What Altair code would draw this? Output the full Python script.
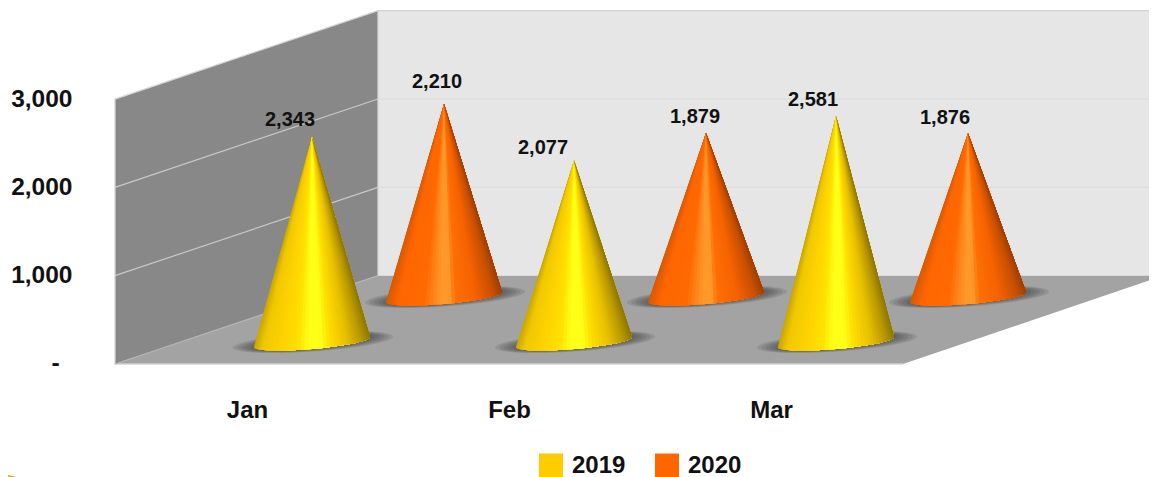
import math
import altair as alt
import pandas as pd

# ---- chart values ----
months = ["Jan", "Feb", "Mar"]
series = ["2019", "2020"]
values_2019 = [2343, 2077, 2581]
values_2020 = [2210, 1879, 1876]
y_ticks = [0, 1000, 2000, 3000]
series_colors = ["#ffcc00", "#ff6600"]

# ---- layout of the pseudo-3D scene (x in picture pixels, y in value units) ----
PX = 0.08833            # picture pixels per value unit
ZERO_PY = 364
BOTTOM_PY = 477
RIGHT_PX = 1149
WALL_L, WALL_R, FLOOR_R, PIC_R = 115, 378, 903, 1157
DEPTH = 1000
month_x = [247, 509, 771]
front_x = [312, 574, 836]
back_x = [444, 706, 968]
front_base = 226
back_base = 736
zero_label_x = 55.5
label_dx_2019 = [-22, -31, -23]
label_dx_2020 = [-7, -11, -23]
label_dy_2019 = [17, 13, 16]
label_dy_2020 = [22, 16, 15]

yellow_profile = [(-1, "#c8a800"), (-.85, "#f0c800"), (-.5, "#ffd400"), (-.25, "#ffe000"),
                  (-.05, "#ffff18"), (.15, "#ffff18"), (.32, "#ffdc00"), (.6, "#e8c000"),
                  (.85, "#b89800"), (1, "#8f7800")]
orange_profile = [(-1, "#d85a00"), (-.8, "#ff6600"), (-.35, "#ff6a00"), (-.14, "#ff8a20"),
                  (-.02, "#ff9a2a"), (.1, "#ff962a"), (.2, "#ff6f05"), (.55, "#f56200"),
                  (.85, "#c85000"), (1, "#a04000")]


def v(py):
    return (ZERO_PY - py) / PX


def mix(profile, u):
    for (u0, c0), (u1, c1) in zip(profile, profile[1:]):
        if u0 <= u <= u1:
            t = (u - u0) / (u1 - u0)
            rgb = [round(int(c0[i:i + 2], 16) * (1 - t) + int(c1[i:i + 2], 16) * t) for i in (1, 3, 5)]
            return "#%02x%02x%02x" % tuple(rgb)
    return profile[-1][1]


def envelope(pts, group, fill=None):
    xs = sorted({round(p[0], 3) for p in pts})
    rows = []
    n = len(pts)
    for x in xs:
        ys = []
        for i in range(n):
            x1, y1 = pts[i]
            x2, y2 = pts[(i + 1) % n]
            x1, x2 = round(x1, 3), round(x2, 3)
            if x1 == x2:
                if x == x1:
                    ys += [y1, y2]
            elif min(x1, x2) <= x <= max(x1, x2):
                ys.append(y1 + (y2 - y1) * (x - x1) / (x2 - x1))
        rows.append({"x": x, "y": max(ys), "y2": min(ys), "g": group, "c": fill})
    return rows


month_expr = " : ".join(f"datum.value == {x} ? '{m}'" for x, m in zip(month_x, months)) + " : ''"
axis_font = dict(labelFont="Liberation Sans", labelFontWeight="bold", labelColor="#111111",
                 domain=False, ticks=False, grid=False, title=None)
x_axis = alt.Axis(values=month_x, labelExpr=month_expr, labelFontSize=24, labelPadding=0,
                  labelBaseline="top", labelAlign="center", offset=-79, **axis_font)
y_axis = alt.Axis(values=y_ticks[1:], labelExpr="format(datum.value, ',')",
                  labelFontSize=24.5, labelPadding=0, labelAlign="right", offset=-64, **axis_font)
xs_scale = alt.Scale(domain=[8, RIGHT_PX], nice=False, zero=False)
ys_scale = alt.Scale(domain=[v(BOTTOM_PY), v(8)], nice=False, zero=False)
X = alt.X("x:Q", scale=xs_scale, axis=x_axis)
Y = alt.Y("y:Q", scale=ys_scale, axis=y_axis)


def poly_layer(pts, fill):
    return alt.Chart(pd.DataFrame(envelope(pts, "p", fill))).mark_area(
        orient="vertical", fill=fill, opacity=1, clip=True
    ).encode(x=X, y=Y, y2="y2:Q")


def line_layer(segments, color, width):
    rows = []
    for i, seg in enumerate(segments):
        for j, (x, y) in enumerate(seg):
            rows.append({"x": x, "y": y, "g": i, "o": j})
    return alt.Chart(pd.DataFrame(rows)).mark_line(color=color, strokeWidth=width, clip=True).encode(
        x=X, y=Y, detail="g:N", order="o:Q"
    )


# ---- hidden points that carry the legend ----
legend_rows = []
for name, vals, xs, base in [(series[0], values_2019, front_x, front_base),
                             (series[1], values_2020, back_x, back_base)]:
    for val, x in zip(vals, xs):
        legend_rows.append({"x": x, "y": val * 0.5 + base, "s": name})

legend_layer = alt.Chart(pd.DataFrame(legend_rows)).mark_square(size=20, opacity=1).encode(
    x=X, y=Y,
    color=alt.Color("s:N", scale=alt.Scale(domain=series, range=series_colors), legend=alt.Legend(
        orient="none", legendX=531, legendY=445.5, direction="horizontal", title=None,
        symbolType="square", symbolSize=576, symbolStrokeWidth=0, labelFontSize=24,
        labelFont="Liberation Sans", labelFontWeight="bold", labelColor="#111111",
        labelOffset=9, columnPadding=29, padding=0, labelLimit=200)),
)

# ---- walls and floor ----
back_wall = poly_layer([(WALL_R, DEPTH), (WALL_R, 3000 + DEPTH), (PIC_R, 3000 + DEPTH), (PIC_R, DEPTH)], "#e6e6e6")
left_wall = poly_layer([(WALL_L, 0), (WALL_L, 3000), (WALL_R, 3000 + DEPTH), (WALL_R, DEPTH)], "#888888")
floor = poly_layer([(WALL_L, 0), (WALL_R, DEPTH), (PIC_R, DEPTH), (PIC_R, DEPTH - 25), (FLOOR_R, 0)], "#a3a3a3")

grid_left = line_layer([[(WALL_L, t), (WALL_R, t + DEPTH)] for t in y_ticks[1:3]], "#c8c8c8", 1.2)
grid_back = line_layer([[(WALL_R, t + DEPTH), (PIC_R, t + DEPTH)] for t in y_ticks[1:3]], "#dcdcdc", 1.2)
edge_light = line_layer([[(WALL_L, 3000), (WALL_R, 3000 + DEPTH), (PIC_R, 3000 + DEPTH)],
                         [(WALL_L, 3000), (WALL_L, 0), (FLOOR_R, 0)],
                         [(WALL_R, 3000 + DEPTH), (WALL_R, DEPTH)]], "#d4d4d4", 1.3)
edge_floor = line_layer([[(WALL_L, 0), (WALL_R, DEPTH)]], "#b5b5b5", 1.2)

# ---- cones ----
R = 58
TILT = 5 / PX
H = 7 / PX
N = 48
grid_u = [-math.cos(math.pi * i / N) for i in range(N + 1)]


def ell(xc, yc, r, h, tilt, u, lower=True):
    s = math.sqrt(max(0, 1 - u * u))
    return (xc + r * u, yc + tilt * u + (-h * s if lower else h * s))


shadow_rows, cone_rows = [], []
cones = []
for name, vals, xs, base, prof in [(series[1], values_2020, back_x, back_base, orange_profile),
                                   (series[0], values_2019, front_x, front_base, yellow_profile)]:
    for val, xc in zip(vals, xs):
        cones.append((name, val, xc, base, prof))

for idx, (name, val, xc, base, prof) in enumerate(cones):
    yc = base + 2 / PX
    apex = (xc, base + val)
    # soft shadow under the cone
    for k in range(9):
        f = 1 - k * 0.055
        us = [-math.cos(math.pi * i / 30) for i in range(31)]
        r, h = 80 * f, (9.5 / PX) * f
        t = 5.5 / PX
        pts = [ell(xc + 1, yc, r, h, t, u, True) for u in us] + \
              [ell(xc + 1, yc, r, h, t, u, False) for u in reversed(us[1:-1])]
        shadow_rows += envelope(pts, f"{idx}-{k}")
    # conic shading: each slice runs from its own angle to the right rim, painted left to right
    for i, u0 in enumerate(grid_u[:-1]):
        arc = [ell(xc, yc, R, H, TILT, u, True) for u in grid_u[i:]]
        um = (u0 + grid_u[i + 1]) / 2
        cone_rows += envelope([apex] + arc, f"{idx}-{i:02d}", mix(prof, um))

shadows = alt.Chart(pd.DataFrame(shadow_rows)).mark_area(
    orient="vertical", fill="#2e2e2e", opacity=0.13
).encode(x=X, y=Y, y2="y2:Q", detail="g:N")

cone_layer = alt.Chart(pd.DataFrame(cone_rows)).mark_area(orient="vertical", opacity=1).encode(
    x=X, y=Y, y2="y2:Q", fill=alt.Fill("c:N", scale=None), detail="g:N"
)

# ---- value labels ----
label_rows = []
for vals, xs, base, dxs, dys in [(values_2019, front_x, front_base, label_dx_2019, label_dy_2019),
                                 (values_2020, back_x, back_base, label_dx_2020, label_dy_2020)]:
    for val, xc, dx, dy in zip(vals, xs, dxs, dys):
        label_rows.append({"x": xc + dx, "y": base + val + dy / PX, "t": f"{val:,}"})
labels = alt.Chart(pd.DataFrame(label_rows)).mark_text(
    font="Liberation Sans", fontWeight="bold", fontSize=20, color="#111111", baseline="middle"
).encode(x=X, y=Y, text="t:N")

zero_label = alt.Chart(pd.DataFrame([{"x": zero_label_x, "y": y_ticks[0], "t": "-"}])).mark_text(
    font="Liberation Sans", fontWeight="bold", fontSize=24.5, color="#111111", baseline="middle"
).encode(x=X, y=Y, text="t:N")

# ---- sliver of orange at the lower left of the picture ----
corner = alt.Chart(pd.DataFrame([{"x": 8, "y": v(475), "y2": v(477)},
                                 {"x": 15, "y": v(476.5), "y2": v(477)}])).mark_area(
    orient="vertical", fill="#f7a823", opacity=1
).encode(x=X, y=Y, y2="y2:Q")

chart = alt.layer(
    legend_layer, back_wall, left_wall, floor, grid_left, grid_back, edge_light, edge_floor,
    shadows, cone_layer, labels, zero_label, corner,
).properties(
    width=RIGHT_PX - 8, height=BOTTOM_PY - 8, padding=0,
    autosize=alt.AutoSizeParams(type="none"), background="white"
).configure_view(stroke=None)

chart.save("out.html", embed_options={"renderer": "svg", "actions": False})
